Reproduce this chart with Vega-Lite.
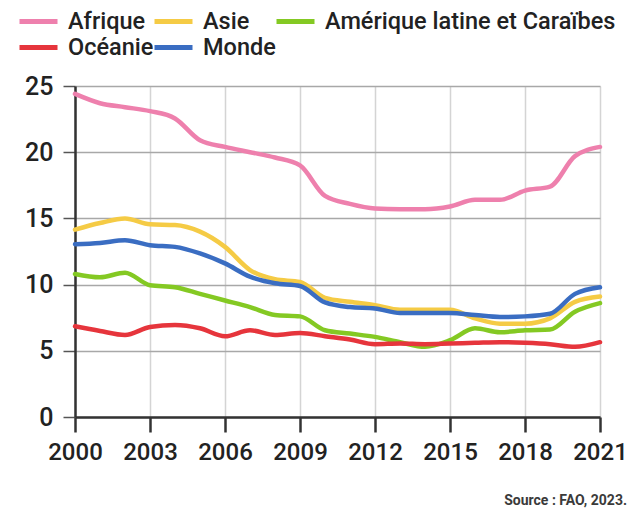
{
  "$schema": "https://vega.github.io/schema/vega-lite/v6.json",
  "width": 525,
  "height": 331,
  "autosize": {"type": "none"},
  "padding": {"left": 75, "top": 86, "right": 28, "bottom": 94},
  "background": "white",
  "config": {
    "font": "Roboto",
    "view": {"stroke": null}
  },
  "title": {
    "text": "Source : FAO, 2023.",
    "orient": "bottom",
    "anchor": "end",
    "frame": "group",
    "fontSize": 14,
    "fontWeight": 700,
    "color": "#3a3a3a",
    "font": "Roboto",
    "offset": 30,
    "dx": 27
  },
  "data": {
    "values": [
      {"annee": 2000, "region": "Afrique", "valeur": 24.4},
      {"annee": 2001, "region": "Afrique", "valeur": 23.7},
      {"annee": 2002, "region": "Afrique", "valeur": 23.4},
      {"annee": 2003, "region": "Afrique", "valeur": 23.1},
      {"annee": 2004, "region": "Afrique", "valeur": 22.55},
      {"annee": 2005, "region": "Afrique", "valeur": 20.9},
      {"annee": 2006, "region": "Afrique", "valeur": 20.4},
      {"annee": 2007, "region": "Afrique", "valeur": 20.0},
      {"annee": 2008, "region": "Afrique", "valeur": 19.6},
      {"annee": 2009, "region": "Afrique", "valeur": 19.0},
      {"annee": 2010, "region": "Afrique", "valeur": 16.7},
      {"annee": 2011, "region": "Afrique", "valeur": 16.1},
      {"annee": 2012, "region": "Afrique", "valeur": 15.75},
      {"annee": 2013, "region": "Afrique", "valeur": 15.7},
      {"annee": 2014, "region": "Afrique", "valeur": 15.7},
      {"annee": 2015, "region": "Afrique", "valeur": 15.9},
      {"annee": 2016, "region": "Afrique", "valeur": 16.4},
      {"annee": 2017, "region": "Afrique", "valeur": 16.4},
      {"annee": 2018, "region": "Afrique", "valeur": 17.1},
      {"annee": 2019, "region": "Afrique", "valeur": 17.4},
      {"annee": 2020, "region": "Afrique", "valeur": 19.7},
      {"annee": 2021, "region": "Afrique", "valeur": 20.4},
      {"annee": 2000, "region": "Asie", "valeur": 14.15},
      {"annee": 2001, "region": "Asie", "valeur": 14.65},
      {"annee": 2002, "region": "Asie", "valeur": 15.0},
      {"annee": 2003, "region": "Asie", "valeur": 14.55},
      {"annee": 2004, "region": "Asie", "valeur": 14.5},
      {"annee": 2005, "region": "Asie", "valeur": 14.0},
      {"annee": 2006, "region": "Asie", "valeur": 12.85},
      {"annee": 2007, "region": "Asie", "valeur": 11.1},
      {"annee": 2008, "region": "Asie", "valeur": 10.4},
      {"annee": 2009, "region": "Asie", "valeur": 10.2},
      {"annee": 2010, "region": "Asie", "valeur": 9.0},
      {"annee": 2011, "region": "Asie", "valeur": 8.7},
      {"annee": 2012, "region": "Asie", "valeur": 8.45},
      {"annee": 2013, "region": "Asie", "valeur": 8.1},
      {"annee": 2014, "region": "Asie", "valeur": 8.1},
      {"annee": 2015, "region": "Asie", "valeur": 8.1},
      {"annee": 2016, "region": "Asie", "valeur": 7.45},
      {"annee": 2017, "region": "Asie", "valeur": 7.05},
      {"annee": 2018, "region": "Asie", "valeur": 7.05},
      {"annee": 2019, "region": "Asie", "valeur": 7.45},
      {"annee": 2020, "region": "Asie", "valeur": 8.7},
      {"annee": 2021, "region": "Asie", "valeur": 9.1},
      {"annee": 2000, "region": "Amérique latine et Caraïbes", "valeur": 10.8},
      {"annee": 2001, "region": "Amérique latine et Caraïbes", "valeur": 10.55},
      {"annee": 2002, "region": "Amérique latine et Caraïbes", "valeur": 10.9},
      {"annee": 2003, "region": "Amérique latine et Caraïbes", "valeur": 9.95},
      {"annee": 2004, "region": "Amérique latine et Caraïbes", "valeur": 9.8},
      {"annee": 2005, "region": "Amérique latine et Caraïbes", "valeur": 9.3},
      {"annee": 2006, "region": "Amérique latine et Caraïbes", "valeur": 8.8},
      {"annee": 2007, "region": "Amérique latine et Caraïbes", "valeur": 8.3},
      {"annee": 2008, "region": "Amérique latine et Caraïbes", "valeur": 7.7},
      {"annee": 2009, "region": "Amérique latine et Caraïbes", "valeur": 7.6},
      {"annee": 2010, "region": "Amérique latine et Caraïbes", "valeur": 6.55},
      {"annee": 2011, "region": "Amérique latine et Caraïbes", "valeur": 6.3},
      {"annee": 2012, "region": "Amérique latine et Caraïbes", "valeur": 6.05},
      {"annee": 2013, "region": "Amérique latine et Caraïbes", "valeur": 5.65},
      {"annee": 2014, "region": "Amérique latine et Caraïbes", "valeur": 5.3},
      {"annee": 2015, "region": "Amérique latine et Caraïbes", "valeur": 5.8},
      {"annee": 2016, "region": "Amérique latine et Caraïbes", "valeur": 6.7},
      {"annee": 2017, "region": "Amérique latine et Caraïbes", "valeur": 6.4},
      {"annee": 2018, "region": "Amérique latine et Caraïbes", "valeur": 6.55},
      {"annee": 2019, "region": "Amérique latine et Caraïbes", "valeur": 6.6},
      {"annee": 2020, "region": "Amérique latine et Caraïbes", "valeur": 7.95},
      {"annee": 2021, "region": "Amérique latine et Caraïbes", "valeur": 8.6},
      {"annee": 2000, "region": "Océanie", "valeur": 6.85},
      {"annee": 2001, "region": "Océanie", "valeur": 6.5},
      {"annee": 2002, "region": "Océanie", "valeur": 6.2},
      {"annee": 2003, "region": "Océanie", "valeur": 6.8},
      {"annee": 2004, "region": "Océanie", "valeur": 6.95},
      {"annee": 2005, "region": "Océanie", "valeur": 6.7},
      {"annee": 2006, "region": "Océanie", "valeur": 6.1},
      {"annee": 2007, "region": "Océanie", "valeur": 6.55},
      {"annee": 2008, "region": "Océanie", "valeur": 6.2},
      {"annee": 2009, "region": "Océanie", "valeur": 6.35},
      {"annee": 2010, "region": "Océanie", "valeur": 6.1},
      {"annee": 2011, "region": "Océanie", "valeur": 5.85},
      {"annee": 2012, "region": "Océanie", "valeur": 5.5},
      {"annee": 2013, "region": "Océanie", "valeur": 5.55},
      {"annee": 2014, "region": "Océanie", "valeur": 5.5},
      {"annee": 2015, "region": "Océanie", "valeur": 5.55},
      {"annee": 2016, "region": "Océanie", "valeur": 5.6},
      {"annee": 2017, "region": "Océanie", "valeur": 5.65},
      {"annee": 2018, "region": "Océanie", "valeur": 5.6},
      {"annee": 2019, "region": "Océanie", "valeur": 5.5},
      {"annee": 2020, "region": "Océanie", "valeur": 5.3},
      {"annee": 2021, "region": "Océanie", "valeur": 5.65},
      {"annee": 2000, "region": "Monde", "valeur": 13.05},
      {"annee": 2001, "region": "Monde", "valeur": 13.15},
      {"annee": 2002, "region": "Monde", "valeur": 13.35},
      {"annee": 2003, "region": "Monde", "valeur": 12.98},
      {"annee": 2004, "region": "Monde", "valeur": 12.85},
      {"annee": 2005, "region": "Monde", "valeur": 12.35},
      {"annee": 2006, "region": "Monde", "valeur": 11.6},
      {"annee": 2007, "region": "Monde", "valeur": 10.6},
      {"annee": 2008, "region": "Monde", "valeur": 10.1},
      {"annee": 2009, "region": "Monde", "valeur": 9.9},
      {"annee": 2010, "region": "Monde", "valeur": 8.65},
      {"annee": 2011, "region": "Monde", "valeur": 8.3},
      {"annee": 2012, "region": "Monde", "valeur": 8.2},
      {"annee": 2013, "region": "Monde", "valeur": 7.85},
      {"annee": 2014, "region": "Monde", "valeur": 7.85},
      {"annee": 2015, "region": "Monde", "valeur": 7.85},
      {"annee": 2016, "region": "Monde", "valeur": 7.7},
      {"annee": 2017, "region": "Monde", "valeur": 7.55},
      {"annee": 2018, "region": "Monde", "valeur": 7.6},
      {"annee": 2019, "region": "Monde", "valeur": 7.8},
      {"annee": 2020, "region": "Monde", "valeur": 9.3},
      {"annee": 2021, "region": "Monde", "valeur": 9.8}
    ]
  },
  "mark": {"type": "line", "strokeWidth": 4.5, "interpolate": "monotone", "strokeCap": "round", "strokeJoin": "round"},
  "encoding": {
    "x": {
      "field": "annee",
      "type": "quantitative",
      "scale": {"domain": [2000, 2021], "nice": false, "zero": false},
      "axis": {
        "title": null,
        "values": [2000, 2003, 2006, 2009, 2012, 2015, 2018, 2021],
        "format": "d",
        "labelFont": "Roboto",
        "labelFontSize": 24,
        "labelFontWeight": 500,
        "labelColor": "#222222",
        "labelPadding": 8,
        "labelFlush": false,
        "tickSize": 15,
        "tickWidth": 2.5,
        "tickColor": "#333333",
        "domainColor": "#333333",
        "domainWidth": 2.5,
        "grid": true,
        "gridColor": "#d4d4d4",
        "gridWidth": 1.5
      }
    },
    "y": {
      "field": "valeur",
      "type": "quantitative",
      "scale": {"domain": [0, 25], "nice": false},
      "axis": {
        "title": null,
        "values": [0, 5, 10, 15, 20, 25],
        "labelFont": "Roboto",
        "labelFontSize": 25,
        "labelFontWeight": 500,
        "labelColor": "#222222",
        "labelPadding": 10,
        "tickSize": 12,
        "tickWidth": 1.5,
        "tickColor": "#555555",
        "domainColor": "#333333",
        "domainWidth": 2.5,
        "grid": true,
        "gridColor": "#a8a8a8",
        "gridWidth": 1.5
      }
    },
    "color": {
      "field": "region",
      "type": "nominal",
      "scale": {
        "domain": ["Afrique", "Asie", "Amérique latine et Caraïbes", "Océanie", "Monde"],
        "range": ["#ee80ad", "#f5cb45", "#84c923", "#e6353c", "#3a6dc2"]
      },
      "legend": {
        "title": null,
        "orient": "none",
        "legendX": -58,
        "legendY": -86,
        "direction": "horizontal",
        "columns": 3,
        "gridAlign": "none",
        "columnPadding": -10,
        "rowPadding": -7,
        "symbolType": "stroke",
        "symbolSize": 1444,
        "symbolStrokeWidth": 5,
        "labelFont": "Roboto",
        "labelFontSize": 23.5,
        "labelFontWeight": 500,
        "labelColor": "#222222",
        "labelOffset": 8,
        "labelLimit": 400
      }
    }
  }
}
